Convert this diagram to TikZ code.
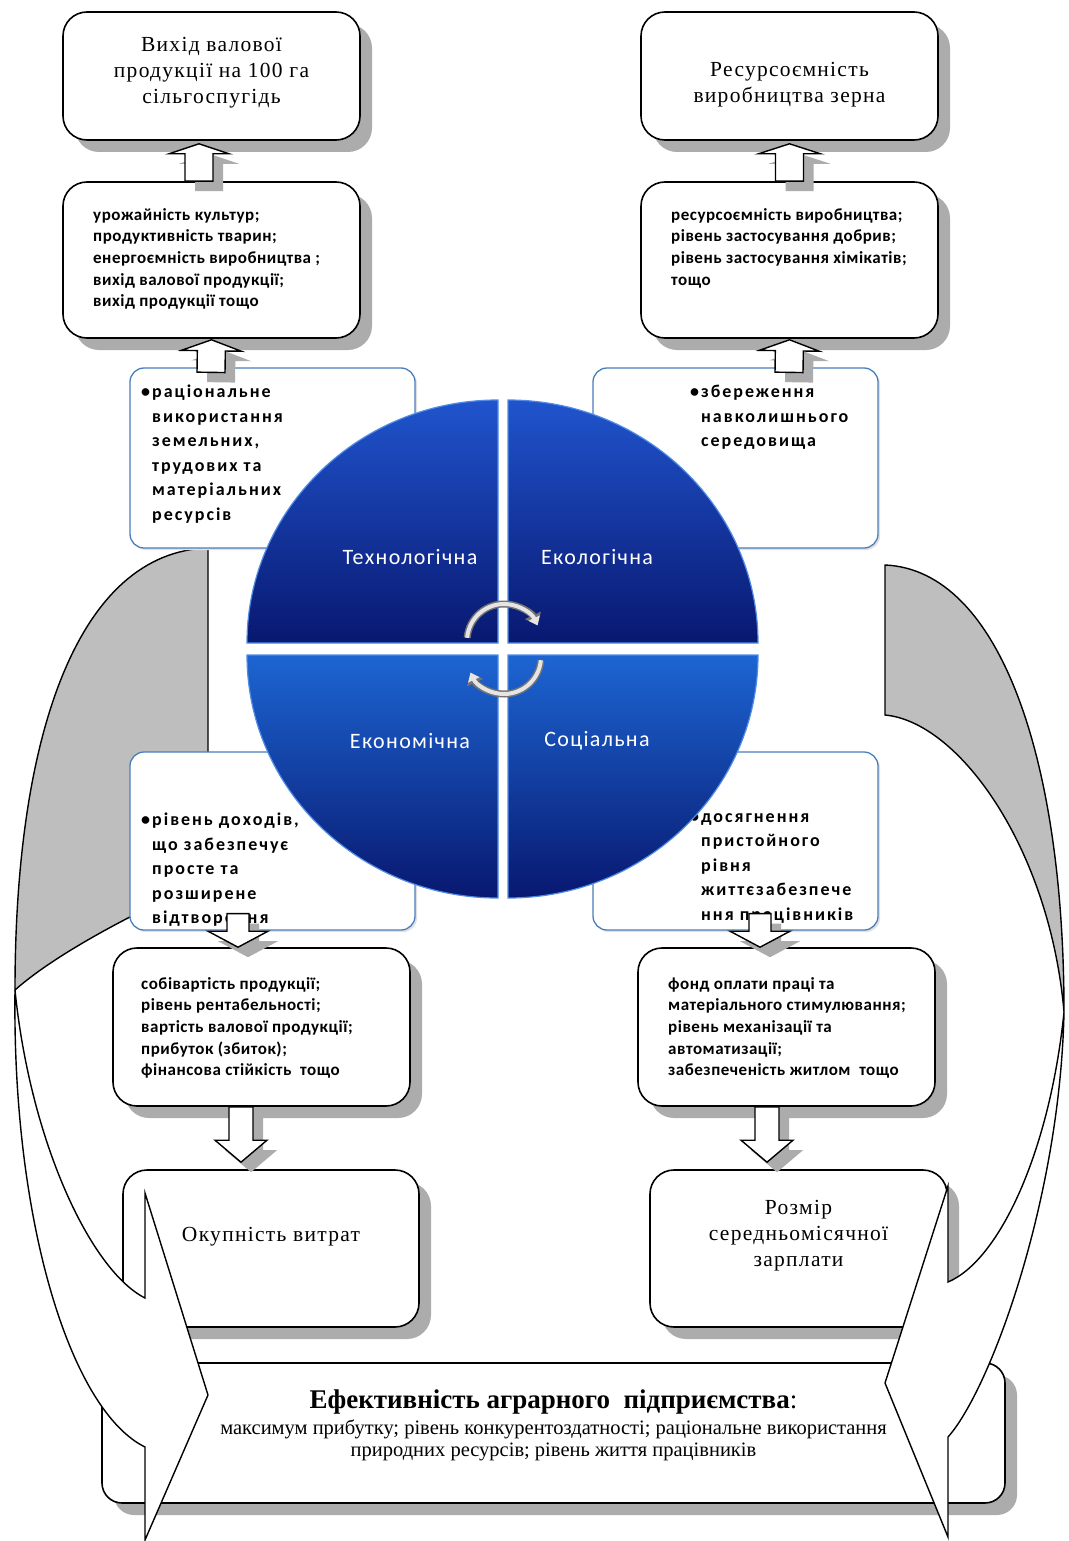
\documentclass[tikz,border=0pt]{standalone}
\usepackage{fontspec}
\setmainfont{Liberation Serif}
\newfontfamily\calibri{Carlito}
\usetikzlibrary{positioning,calc,shadows,arrows.meta}

\definecolor{bulblue}{RGB}{74,126,187}
\definecolor{qlight}{RGB}{32,84,205}
\definecolor{qdark}{RGB}{8,24,112}
\definecolor{qrim}{RGB}{80,140,230}
\definecolor{backgray}{RGB}{190,190,190}
\definecolor{shadgray}{RGB}{172,172,172}

\tikzset{
  box/.style={draw, line width=1.6pt, rounded corners=24pt, fill=white,
    drop shadow={shadow xshift=12pt, shadow yshift=-12pt, fill=shadgray, opacity=1}},
  bulbox/.style={draw=bulblue, line width=1.3pt, rounded corners=14pt, fill=white,
    minimum width=285pt, minimum height=180pt,
    drop shadow={shadow xshift=2pt, shadow yshift=-2pt, fill=black!12, opacity=1}},
  quarter/.style={draw=qrim, line width=1.2pt, top color=qlight, bottom color=qdark},
  qlabel/.style={text=white, inner sep=0pt, font={\calibri\fontsize{22}{26}\selectfont\addfontfeatures{LetterSpace=6}}},
  sertext/.style={align=center, inner sep=0pt, font={\fontsize{21.5}{26}\selectfont\addfontfeatures{LetterSpace=6}}},
  listtext/.style={align=left, inner sep=0pt, anchor=north west, font={\calibri\bfseries\fontsize{17}{21.7}\selectfont\addfontfeatures{LetterSpace=3}}},
  bultext/.style={align=left, inner sep=0pt, anchor=north west, font={\calibri\bfseries\fontsize{18}{24.5}\selectfont\addfontfeatures{LetterSpace=11}}},
  backface/.style={draw, line width=1.4pt, fill=backgray},
  frontface/.style={draw, line width=1.4pt, fill=white},
  cycout/.style={line width=7pt, draw=black!55, -{Triangle[width=17pt,length=11pt]}},
  cycin/.style={line width=4pt, draw=black!10, -{Triangle[width=12pt,length=8pt]}},
}

% hollow block arrow: from, to, stem half width, head half width, head length
\newcommand{\hollowarr}[5]{%
  \coordinate (hb) at ($(#2)!#5!(#1)$);
  \fill[shadgray, transform canvas={shift={(10pt,-10pt)}}]
    ($(#1)!#3!-90:(#2)$) -- ($(hb)!#3!-90:(#2)$) -- ($(hb)!#4!-90:(#2)$) -- (#2)
    -- ($(hb)!#4!90:(#2)$) -- ($(hb)!#3!90:(#2)$) -- ($(#1)!#3!90:(#2)$) -- cycle;
  \draw[fill=white, line width=1.4pt]
    ($(#1)!#3!-90:(#2)$) -- ($(hb)!#3!-90:(#2)$) -- ($(hb)!#4!-90:(#2)$) -- (#2)
    -- ($(hb)!#4!90:(#2)$) -- ($(hb)!#3!90:(#2)$) -- ($(#1)!#3!90:(#2)$) -- cycle;
}

\begin{document}
\begin{tikzpicture}[x=1pt,y=-1pt]
\fill[white] (0,0) rectangle (1068,1541);
\useasboundingbox (0,0) rectangle (1068,1541);

% boxes
\node[box, minimum width=297pt, minimum height=128pt] (vyhid) at (211.5,76) {};
\node[box, minimum width=297pt, minimum height=156pt] (pokaz1) at (211.5,260) {};
\node[box, minimum width=297pt, minimum height=128pt] (resurs) at (789.5,76) {};
\node[box, minimum width=297pt, minimum height=156pt] (pokaz2) at (789.5,260) {};
\node[box, minimum width=297pt, minimum height=158pt] (pokaz3) at (261.5,1027) {};
\node[box, minimum width=297pt, minimum height=158pt] (pokaz4) at (786.5,1027) {};
\node[box, minimum width=296pt, minimum height=157pt] (okup) at (271,1248.5) {};
\node[box, minimum width=297pt, minimum height=157pt] (rozmir) at (798.5,1248.5) {};
\node[box, minimum width=903pt, minimum height=140pt, rounded corners=20pt] (efekt) at (553.5,1433) {};

% curved arrows
\draw[backface] (208,548) .. controls (80,552) and (15,730) .. (15,990)
  .. controls (60,950) and (150,905) .. (208,880) -- cycle;
\draw[frontface] (15,990) .. controls (30,1140) and (90,1270) .. (145,1298)
  -- (145,1193) -- (208,1395) -- (145,1540) -- (145,1447)
  .. controls (70,1410) and (12,1220) .. (15,990) -- cycle;
\draw[backface] (885,565) .. controls (1000,570) and (1064,760) .. (1064,1012)
  .. controls (1050,850) and (960,722) .. (885,715) -- cycle;
\draw[frontface] (1064,1012) .. controls (1050,1150) and (1000,1260) .. (948,1282)
  -- (948,1186) -- (885,1383) -- (948,1537) -- (948,1437)
  .. controls (990,1390) and (1060,1200) .. (1064,1012) -- cycle;

% texts of boxes
\node[sertext] (vyhidt) at ([yshift=3pt]vyhid.center) {Вихід валової\\продукції на 100 га\\сільгоспугідь};
\node[sertext] (resurst) at ([yshift=-9pt]resurs.center) {Ресурсоємність\\виробництва зерна};
\node[listtext] (pokaz1t) at (93,208) {урожайність культур;\\продуктивність тварин;\\енергоємність виробництва ;\\вихід валової продукції;\\вихід продукції тощо};
\node[listtext] (pokaz2t) at (671,208) {ресурсоємність виробництва;\\рівень застосування добрив;\\рівень застосування хімікатів;\\тощо};
\node[listtext] (pokaz3t) at (141,977) {собівартість продукції;\\рівень рентабельності;\\вартість валової продукції;\\прибуток (збиток);\\фінансова стійкість\ \ тощо};
\node[listtext] (pokaz4t) at (668,977) {фонд оплати праці та\\матеріального стимулювання;\\рівень механізації та\\автоматизації;\\забезпеченість житлом\ \ тощо};
\node[sertext] (okupt) at ([yshift=11.5pt]okup.center) {Окупність витрат};
\node[sertext] (rozmirt) at ([yshift=12.5pt]rozmir.center) {Розмір\\середньомісячної\\зарплати};
\node[inner sep=0pt, font={\fontsize{27}{29}\selectfont}] (efektt) at ([yshift=31pt]efekt.center)
  {\textbf{Ефективність аграрного\ \ підприємства}:};
\node[align=center, inner sep=0pt, font={\fontsize{20.5}{22}\selectfont}] (efektl) at ([yshift=-7pt]efekt.center)
  {максимум прибутку; рівень конкурентоздатності; раціональне використання\\природних ресурсів; рівень життя працівників};

% bullet boxes
\node[bulbox] (btl) at (272.5,458) {};
\node[bulbox] (btr) at (735.5,458) {};
\node[bulbox, minimum height=178pt] (bbl) at (272.5,841) {};
\node[bulbox, minimum height=178pt] (bbr) at (735.5,841) {};
\node[bultext] (btlt) at (152,385) {\llap{•\hspace{2pt}}раціональне\\використання\\земельних,\\трудових та\\матеріальних\\ресурсів};
\node[bultext] (btrt) at (701,385) {\llap{•\hspace{2pt}}збереження\\навколишнього\\середовища};
\node[bultext] (bblt) at (152,813) {\llap{•\hspace{2pt}}рівень доходів,\\що забезпечує\\просте та\\розширене\\відтворення};
\node[bultext] (bbrt) at (701,813) {\llap{•\hspace{2pt}}досягнення\\пристойного\\рівня\\життєзабезпече\\ння працівників};

% circle of four quarters
\path[quarter] (498,643) -- ++(-251pt,0pt) arc[start angle=180, end angle=90, x radius=251pt, y radius=243pt] -- cycle;
\path[quarter] (508,643) -- ++(0pt,243pt) arc[start angle=90, end angle=0, x radius=250pt, y radius=243pt] -- cycle;
\path[quarter, top color=qlight!90!cyan] (498,655) -- ++(-251pt,0pt) arc[start angle=180, end angle=270, x radius=251pt, y radius=243pt] -- cycle;
\path[quarter, top color=qlight!90!cyan] (508,655) -- ++(250pt,0pt) arc[start angle=0, end angle=-90, x radius=250pt, y radius=243pt] -- cycle;
\node[qlabel] (tech) at (410,557) {Технологічна};
\node[qlabel] (eko) at (597,557) {Екологічна};
\node[qlabel] (ekon) at (410,741) {Економічна};
\node[qlabel] (soc) at (597,741) {Соціальна};
\coordinate (ctr1) at (504,641);
\coordinate (ctr2) at (504,657);
\draw[cycout] ([shift={(175:37pt)}]ctr1) arc[start angle=175, end angle=25, radius=37pt];
\draw[cycin] ([shift={(175:37pt)}]ctr1) arc[start angle=175, end angle=25, radius=37pt];
\draw[cycout] ([shift={(-5:37pt)}]ctr2) arc[start angle=-5, end angle=-155, radius=37pt];
\draw[cycin] ([shift={(-5:37pt)}]ctr2) arc[start angle=-5, end angle=-155, radius=37pt];

% block arrows
\hollowarr{[xshift=-12.5pt]pokaz1.north}{[xshift=-12.5pt, yshift=-3pt]vyhid.south}{14pt}{30pt}{10pt}
\hollowarr{pokaz2.north}{[yshift=-3pt]resurs.south}{14pt}{31pt}{10pt}
\hollowarr{[xshift=-61.5pt, yshift=-5pt]btl.north}{[yshift=-1pt]pokaz1.south}{14pt}{30pt}{11pt}
\hollowarr{[xshift=53.5pt, yshift=-5pt]btr.north}{[yshift=-1pt]pokaz2.south}{14pt}{30pt}{11pt}
\hollowarr{[xshift=-34.5pt, yshift=17pt]bbl.south}{[xshift=-23.5pt]pokaz3.north}{11pt}{30pt}{16pt}
\hollowarr{[xshift=24.5pt, yshift=17pt]bbr.south}{[xshift=-26.5pt]pokaz4.north}{11pt}{30pt}{16pt}
\hollowarr{[xshift=-20.5pt]pokaz3.south}{[xshift=-30pt, yshift=7pt]okup.north}{12pt}{26pt}{22pt}
\hollowarr{[xshift=-19.5pt]pokaz4.south}{[xshift=-31.5pt, yshift=7pt]rozmir.north}{12pt}{26pt}{22pt}
\end{tikzpicture}
\end{document}
